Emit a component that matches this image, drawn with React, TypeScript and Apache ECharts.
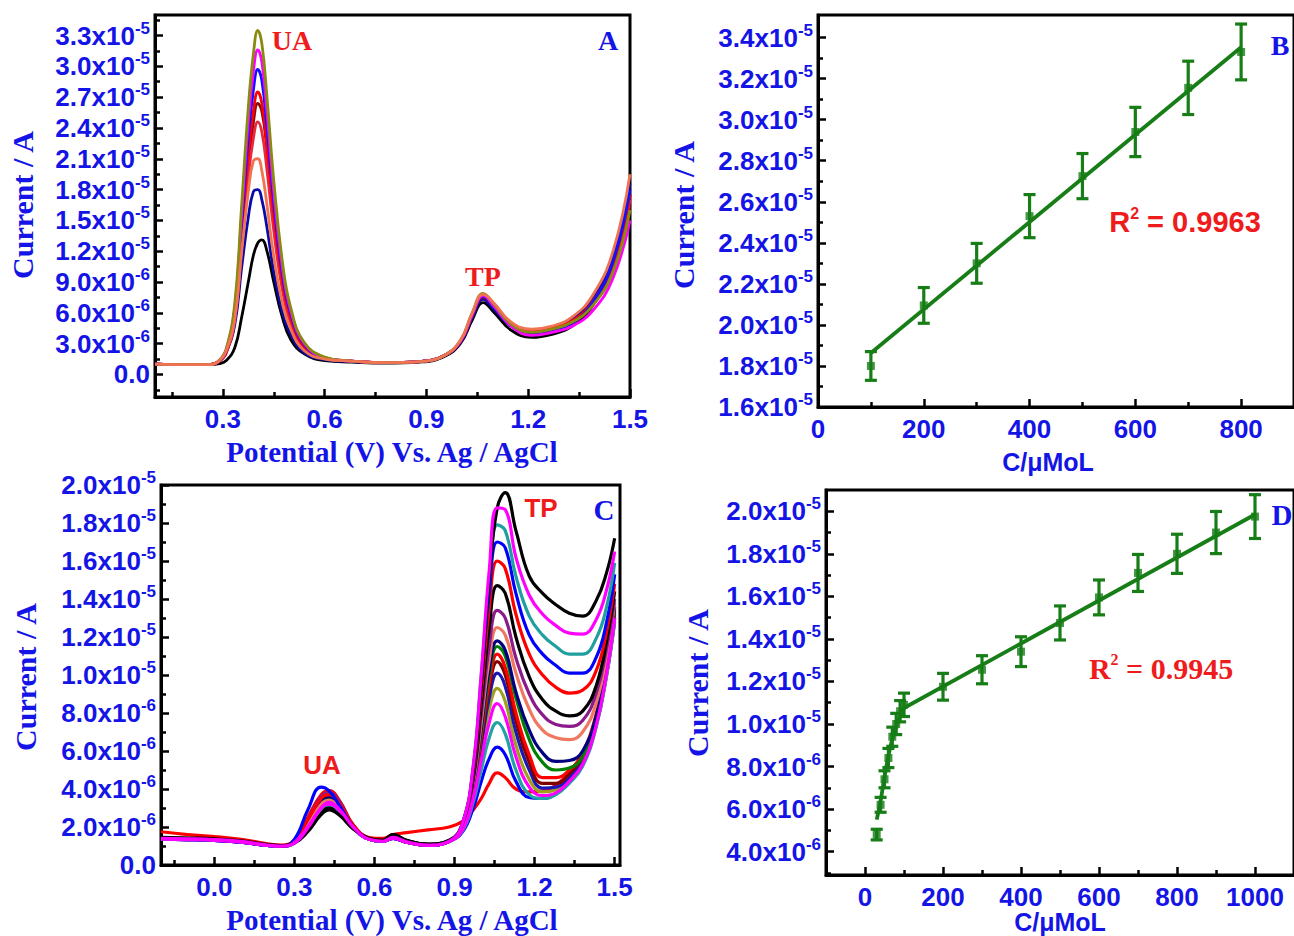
import React, { useEffect, useRef } from 'react';
import * as echarts from 'echarts';

// ---------- Panel A : DPV, UA varied (current values in 1e-6 A) ----------
const X_A = [0.1, 0.2, 0.26, 0.29, 0.31, 0.335, 0.355, 0.375, 0.39, 0.403, 0.415, 0.43, 0.45, 0.475, 0.5, 0.54, 0.6, 0.68, 0.78, 0.88, 0.95, 1.0, 1.035, 1.067, 1.1, 1.15, 1.21, 1.27, 1.33, 1.39, 1.45, 1.5];
const A_BLACK = [1.0, 0.95, 0.95, 1.05, 1.35, 2.6, 5.5, 9.0, 11.6, 12.8, 13.1, 12.0, 9.0, 5.6, 3.4, 2.0, 1.35, 1.2, 1.1, 1.2, 1.7, 3.0, 5.3, 7.0, 6.0, 4.3, 3.6, 3.9, 4.7, 6.7, 10.5, 17.5];
const A_NAVY = [1.0, 0.95, 0.95, 1.3, 2.2, 4.8, 10.3, 15.3, 17.8, 18.0, 17.0, 14.3, 10.0, 6.1, 3.9, 2.1, 1.45, 1.25, 1.15, 1.25, 1.8, 3.1, 5.5, 7.3, 6.3, 4.7, 4.2, 4.5, 5.4, 7.4, 11.4, 18.6];
const A_MAROON = [1.0, 0.95, 0.95, 1.3, 2.1, 5.4, 12.6, 20.3, 24.5, 26.4, 25.6, 21.9, 15.5, 9.2, 5.4, 2.7, 1.6, 1.3, 1.15, 1.25, 1.8, 3.2, 5.7, 7.5, 6.5, 4.7, 4.0, 4.4, 5.0, 6.8, 10.2, 16.5];
const A_CRIMSON = [1.0, 0.95, 0.95, 1.3, 2.1, 5.3, 12.1, 19.2, 23.0, 24.6, 23.6, 19.9, 14.0, 8.3, 5.0, 2.5, 1.55, 1.3, 1.15, 1.25, 1.8, 3.2, 5.8, 7.7, 6.7, 4.9, 4.2, 4.6, 5.2, 7.0, 10.6, 17.0];
const A_RED = [1.0, 0.95, 0.95, 1.3, 2.2, 5.8, 13.5, 21.4, 25.6, 27.5, 26.4, 22.2, 15.6, 9.2, 5.5, 2.7, 1.6, 1.3, 1.15, 1.25, 1.8, 3.2, 5.8, 7.6, 6.6, 4.8, 4.1, 4.5, 5.2, 7.1, 10.8, 17.5];
const A_BLUE = [1.0, 0.95, 0.95, 1.35, 2.3, 6.2, 14.5, 23.1, 27.7, 29.7, 28.6, 24.0, 16.8, 9.9, 5.9, 2.9, 1.6, 1.3, 1.15, 1.25, 1.8, 3.2, 5.8, 7.6, 6.5, 4.7, 3.9, 4.3, 5.0, 7.0, 11.0, 18.0];
const A_MAGENTA = [1.0, 0.95, 0.95, 1.37, 2.4, 6.5, 15.4, 24.6, 29.5, 31.6, 30.4, 25.5, 17.8, 10.5, 6.2, 3.0, 1.65, 1.3, 1.15, 1.25, 1.8, 3.2, 5.8, 7.7, 6.6, 4.7, 3.8, 4.1, 4.7, 6.2, 9.4, 15.0];
const A_OLIVE = [1.0, 0.95, 0.95, 1.4, 2.5, 6.9, 16.3, 26.0, 31.2, 33.5, 32.2, 27.0, 18.9, 11.1, 6.5, 3.1, 1.7, 1.3, 1.15, 1.25, 1.8, 3.3, 6.0, 7.9, 6.8, 4.9, 4.1, 4.4, 5.1, 6.7, 10.0, 16.0];
const A_SALMON = [1.0, 0.95, 0.95, 1.35, 2.3, 5.4, 11.8, 17.8, 20.8, 21.0, 19.8, 16.5, 11.5, 7.0, 4.4, 2.3, 1.5, 1.3, 1.15, 1.25, 1.8, 3.3, 6.0, 7.8, 6.9, 5.1, 4.4, 4.7, 5.6, 7.7, 12.0, 19.5];
const A_X_MAJOR = [0.3, 0.6, 0.9, 1.2, 1.5];
const A_X_MINOR = [0.15, 0.45, 0.75, 1.05, 1.35];
const A_Y_MAJOR = [0, 3, 6, 9, 12, 15, 18, 21, 24, 27, 30, 33];
const A_Y_MINOR = [-1.5, 1.5, 4.5, 7.5, 10.5, 13.5, 16.5, 19.5, 22.5, 25.5, 28.5, 31.5, 34.5];

// ---------- Panel B : calibration (1e-6 A) ----------
const B_CONC = [100, 200, 300, 400, 500, 600, 700, 800];
const B_CURRENT = [18.0, 20.95, 23.0, 25.3, 27.25, 29.4, 31.55, 33.3];
const B_ERR = [0.7, 0.87, 0.97, 1.05, 1.1, 1.2, 1.3, 1.36];
const B_FIT_X = [100, 800];
const B_FIT_Y = [18.63, 33.53];
const B_X_MAJOR = [0, 200, 400, 600, 800];
const B_X_MINOR = [100, 300, 500, 700];
const B_Y_MAJOR = [16, 18, 20, 22, 24, 26, 28, 30, 32, 34];
const B_Y_MINOR = [17, 19, 21, 23, 25, 27, 29, 31, 33];

// ---------- Panel C : DPV, TP varied (1e-6 A) ----------
const X_C = [-0.2, -0.1, 0.0, 0.1, 0.2, 0.25, 0.3, 0.35, 0.4, 0.43, 0.47, 0.52, 0.58, 0.63, 0.67, 0.72, 0.8, 0.88, 0.93, 0.97, 1.0, 1.03, 1.06, 1.09, 1.13, 1.18, 1.23, 1.28, 1.33, 1.38, 1.43, 1.47, 1.5];
const C1_BLACK = [1.45, 1.42, 1.38, 1.27, 1.08, 1.02, 1.15, 1.75, 2.65, 2.9, 2.6, 1.9, 1.4, 1.3, 1.6, 1.3, 1.1, 1.3, 2.2, 5.0, 9.5, 15.0, 18.8, 19.6, 17.6, 15.2, 14.3, 13.7, 13.25, 13.1, 13.9, 15.4, 17.2];
const C2_MAGENTA = [1.4, 1.38, 1.34, 1.24, 1.05, 1.0, 1.15, 1.95, 3.0, 3.3, 2.9, 2.0, 1.35, 1.25, 1.45, 1.22, 1.05, 1.25, 2.2, 5.2, 10.0, 15.5, 18.8, 18.7, 16.2, 14.2, 13.2, 12.6, 12.2, 12.15, 12.9, 14.5, 16.5];
const C3_TEAL = [1.38, 1.36, 1.32, 1.22, 1.04, 0.98, 1.15, 1.9, 2.95, 3.2, 2.8, 1.95, 1.35, 1.25, 1.45, 1.22, 1.05, 1.25, 2.2, 5.2, 10.0, 15.0, 17.9, 17.6, 15.2, 13.1, 12.1, 11.5, 11.1, 11.1, 11.9, 13.6, 15.9];
const C4_BLUE = [1.36, 1.34, 1.3, 1.2, 1.03, 0.98, 1.35, 2.9, 4.1, 3.9, 3.1, 2.0, 1.35, 1.25, 1.4, 1.2, 1.05, 1.25, 2.2, 5.0, 9.6, 14.3, 17.0, 16.7, 14.3, 12.1, 11.1, 10.5, 10.1, 10.1, 10.9, 12.8, 15.3];
const C5_RED = [1.42, 1.4, 1.35, 1.24, 1.05, 1.0, 1.3, 2.4, 3.5, 3.7, 3.2, 2.1, 1.4, 1.3, 1.45, 1.22, 1.05, 1.25, 2.1, 4.8, 9.0, 13.5, 16.0, 15.6, 13.2, 11.1, 10.0, 9.35, 9.05, 9.2, 10.2, 12.3, 14.8];
const C6_BLACK = [1.4, 1.38, 1.34, 1.23, 1.05, 1.0, 1.18, 1.85, 2.8, 3.0, 2.7, 1.95, 1.4, 1.3, 1.6, 1.3, 1.1, 1.28, 2.1, 4.6, 8.4, 12.5, 14.7, 14.3, 12.0, 9.9, 8.7, 8.1, 7.85, 8.1, 9.4, 11.8, 14.4];
const C7_PURPLE = [1.38, 1.36, 1.32, 1.22, 1.04, 0.99, 1.28, 2.4, 3.6, 3.8, 3.3, 2.1, 1.38, 1.28, 1.45, 1.22, 1.05, 1.25, 2.0, 4.4, 7.9, 11.5, 13.4, 13.0, 10.9, 9.0, 7.9, 7.4, 7.3, 7.6, 9.0, 11.4, 14.0];
const C8_SALMON = [1.4, 1.38, 1.33, 1.23, 1.05, 1.0, 1.22, 2.1, 3.2, 3.4, 3.0, 2.0, 1.35, 1.25, 1.42, 1.2, 1.05, 1.25, 2.0, 4.3, 7.5, 10.8, 12.5, 12.1, 10.1, 8.2, 7.1, 6.7, 6.6, 7.0, 8.5, 11.0, 13.8];
const C9_NAVY = [1.36, 1.34, 1.3, 1.2, 1.03, 0.98, 1.25, 2.3, 3.4, 3.6, 3.1, 2.05, 1.35, 1.25, 1.4, 1.2, 1.04, 1.24, 2.0, 4.2, 7.2, 10.3, 11.8, 11.3, 9.1, 7.1, 5.9, 5.45, 5.5, 6.0, 7.8, 10.6, 13.6];
const C10_GREEN = [1.38, 1.36, 1.32, 1.22, 1.04, 0.99, 1.24, 2.2, 3.3, 3.5, 3.05, 2.0, 1.35, 1.25, 1.42, 1.2, 1.05, 1.25, 2.0, 4.1, 7.0, 10.0, 11.5, 11.0, 8.8, 6.6, 5.4, 5.0, 5.1, 5.7, 7.6, 10.5, 13.5];
const C11_RED = [1.4, 1.38, 1.34, 1.23, 1.05, 1.0, 1.3, 2.5, 3.7, 3.9, 3.35, 2.1, 1.38, 1.28, 1.45, 1.22, 1.05, 1.25, 1.95, 4.0, 6.8, 9.6, 11.1, 10.4, 8.0, 5.8, 4.6, 4.6, 5.0, 5.8, 7.8, 10.6, 13.4];
const C12_MAROON = [1.38, 1.36, 1.32, 1.22, 1.04, 0.99, 1.3, 2.45, 3.65, 3.9, 3.35, 2.1, 1.38, 1.28, 1.5, 1.25, 1.06, 1.26, 1.95, 3.9, 6.6, 9.3, 10.7, 10.0, 7.6, 5.4, 4.3, 4.3, 4.8, 5.7, 7.7, 10.5, 13.3];
const C13_NAVY = [1.36, 1.34, 1.3, 1.2, 1.03, 0.98, 1.26, 2.3, 3.4, 3.6, 3.1, 2.05, 1.35, 1.25, 1.4, 1.2, 1.04, 1.24, 1.9, 3.8, 6.3, 8.8, 10.1, 9.4, 7.0, 5.0, 4.05, 4.1, 4.6, 5.5, 7.5, 10.3, 13.2];
const C14_OLIVE = [1.38, 1.36, 1.32, 1.22, 1.04, 0.99, 1.22, 2.1, 3.2, 3.4, 3.0, 2.0, 1.35, 1.25, 1.42, 1.2, 1.05, 1.25, 1.9, 3.7, 5.9, 8.2, 9.3, 8.6, 6.3, 4.5, 3.85, 3.95, 4.5, 5.4, 7.4, 10.1, 13.0];
const C15_MAGENTA = [1.36, 1.34, 1.3, 1.2, 1.03, 0.98, 1.2, 2.0, 3.0, 3.2, 2.85, 1.95, 1.35, 1.25, 1.4, 1.2, 1.04, 1.24, 1.85, 3.5, 5.5, 7.5, 8.5, 7.8, 5.7, 4.1, 3.65, 3.8, 4.4, 5.3, 7.3, 10.1, 13.0];
const C16_TEAL = [1.38, 1.36, 1.32, 1.22, 1.04, 0.99, 1.18, 1.95, 2.9, 3.1, 2.8, 1.95, 1.35, 1.25, 1.42, 1.2, 1.05, 1.25, 1.8, 3.3, 5.0, 6.7, 7.5, 6.9, 5.0, 3.7, 3.5, 3.7, 4.3, 5.2, 7.2, 10.0, 12.9];
const C17_BLUE = [1.36, 1.34, 1.3, 1.2, 1.03, 0.98, 1.2, 2.0, 3.05, 3.3, 2.9, 2.0, 1.35, 1.25, 1.4, 1.2, 1.04, 1.24, 1.75, 3.0, 4.4, 5.6, 6.2, 5.8, 4.4, 3.55, 3.5, 3.75, 4.4, 5.3, 7.3, 10.0, 12.8];
const C18_RED = [1.75, 1.6, 1.5, 1.35, 1.12, 1.05, 1.3, 2.4, 3.4, 3.6, 3.15, 2.1, 1.45, 1.4, 1.6, 1.7, 1.85, 2.0, 2.3, 2.9, 3.5, 4.3, 4.85, 4.6, 4.0, 3.85, 3.9, 4.2, 4.9, 5.9, 7.9, 10.5, 13.0];
const C_X_MAJOR = [0.0, 0.3, 0.6, 0.9, 1.2, 1.5];
const C_X_MINOR = [-0.15, 0.15, 0.45, 0.75, 1.05, 1.35];
const C_Y_MAJOR = [0, 2, 4, 6, 8, 10, 12, 14, 16, 18, 20];
const C_Y_MINOR = [1, 3, 5, 7, 9, 11, 13, 15, 17, 19];

// ---------- Panel D : calibration (1e-6 A) ----------
const D_CONC = [30, 40, 50, 60, 70, 80, 90, 100, 200, 300, 400, 500, 600, 700, 800, 900, 1000];
const D_CURRENT = [4.8, 6.2, 7.4, 8.4, 9.4, 10.0, 10.6, 10.9, 11.75, 12.55, 13.4, 14.75, 15.95, 17.1, 18.0, 19.0, 19.75];
const D_ERR = [0.25, 0.35, 0.4, 0.45, 0.45, 0.5, 0.5, 0.55, 0.63, 0.66, 0.7, 0.8, 0.82, 0.87, 0.92, 0.99, 1.03];
const D_FIT_LOW_X = [30, 40, 50, 60, 70, 80, 90, 100];
const D_FIT_LOW_Y = [5.5, 6.4, 7.5, 8.5, 9.3, 9.9, 10.4, 10.75];
const D_FIT_HIGH_X = [100, 1000];
const D_FIT_HIGH_Y = [10.75, 19.85];
const D_X_MAJOR = [0, 200, 400, 600, 800, 1000];
const D_X_MINOR = [100, 300, 500, 700, 900];
const D_Y_MAJOR = [4, 6, 8, 10, 12, 14, 16, 18, 20];
const D_Y_MINOR = [3, 5, 7, 9, 11, 13, 15, 17, 19];

const MICRO = 1e-6;
const BLUE = '#1414e6';
const RED = '#ee1c1c';
const GREEN = '#177d17';
const SANS = '"Liberation Sans", Arial, sans-serif';
const SERIF = '"Liberation Serif", "Times New Roman", serif';
const TICK_FONT = 26;

function sciLabel(v: number): string {
  if (Math.abs(v) < 1e-12) return '{m|0.0}';
  const e = Math.floor(Math.log10(Math.abs(v)) + 1e-9);
  const m = (v / Math.pow(10, e)).toFixed(1);
  return `{m|${m}x10}{s|${e}}`;
}

const sciRich = {
  m: { fontSize: TICK_FONT, fontWeight: 'bold', fontFamily: SANS, color: BLUE, lineHeight: 32 },
  s: { fontSize: 17, fontWeight: 'bold', fontFamily: SANS, color: BLUE, lineHeight: 16, verticalAlign: 'top' },
};

function axisPair(dim: 'x' | 'y', grid: number, min: number, max: number, majors: number[], minors: number[], fmt: (v: number) => string, margin: number) {
  const major: any = {
    type: 'value', gridIndex: grid, min, max,
    position: dim === 'x' ? 'bottom' : 'left',
    axisLine: { show: true, onZero: false, lineStyle: { color: '#000', width: 3 } },
    axisTick: { show: true, inside: true, length: 8, customValues: majors, lineStyle: { color: '#000', width: 2.5 } },
    axisLabel: {
      show: true, customValues: majors, formatter: fmt, margin,
      color: BLUE, fontSize: TICK_FONT, fontWeight: 'bold', fontFamily: SANS, rich: sciRich,
    },
    splitLine: { show: false },
  };
  const minor: any = {
    type: 'value', gridIndex: grid, min, max,
    position: dim === 'x' ? 'bottom' : 'left',
    axisLine: { show: false, onZero: false },
    axisTick: { show: true, inside: true, length: 5, customValues: minors, lineStyle: { color: '#000', width: 2.5 } },
    axisLabel: { show: false },
    splitLine: { show: false },
  };
  return [major, minor];
}

const fmtA = (v: number) => v.toFixed(1);
const fmtInt = (v: number) => String(Math.round(v));

function curve(xs: number[], ys: number[], color: string, axis: number, width: number) {
  return {
    type: 'line', xAxisIndex: axis, yAxisIndex: axis,
    data: xs.map((x, i) => [x, ys[i] * MICRO]),
    smooth: 0.45, showSymbol: false, symbol: 'none',
    lineStyle: { color, width }, itemStyle: { color }, silent: true,
  };
}

function errorBars(xs: number[], ys: number[], es: number[], axis: number) {
  return {
    type: 'custom', xAxisIndex: axis, yAxisIndex: axis, z: 4,
    data: xs.map((x, i) => [x, ys[i] * MICRO, es[i] * MICRO]),
    encode: { x: 0, y: 1 },
    renderItem: (params: any, api: any) => {
      const x = api.value(0), y = api.value(1), e = api.value(2);
      const t = api.coord([x, y + e]);
      const b = api.coord([x, y - e]);
      const hw = 6;
      const st = { stroke: GREEN, lineWidth: 3.2 };
      return {
        type: 'group',
        children: [
          { type: 'line', shape: { x1: t[0], y1: t[1], x2: b[0], y2: b[1] }, style: st },
          { type: 'line', shape: { x1: t[0] - hw, y1: t[1], x2: t[0] + hw, y2: t[1] }, style: st },
          { type: 'line', shape: { x1: b[0] - hw, y1: b[1], x2: b[0] + hw, y2: b[1] }, style: st },
        ],
      };
    },
  };
}

function markers(xs: number[], ys: number[], axis: number) {
  return {
    type: 'scatter', xAxisIndex: axis, yAxisIndex: axis, z: 5,
    data: xs.map((x, i) => [x, ys[i] * MICRO]),
    symbol: 'rect', symbolSize: 8, itemStyle: { color: GREEN },
  };
}

function fitLine(xs: number[], ys: number[], axis: number, smooth: boolean) {
  return {
    type: 'line', xAxisIndex: axis, yAxisIndex: axis, z: 3,
    data: xs.map((x, i) => [x, ys[i] * MICRO]),
    smooth: smooth ? 0.4 : false, showSymbol: false, symbol: 'none',
    lineStyle: { color: GREEN, width: 3.8 },
  };
}

function txt(text: string, x: number, y: number, fill: string, font: string, size: number, rotation = 0) {
  return {
    type: 'text', x, y, rotation, z: 100,
    style: { text, fill, fontFamily: font, fontSize: size, fontWeight: 'bold', align: 'center', verticalAlign: 'middle' },
  };
}

function r2Text(value: string, x: number, y: number, font: string, size: number) {
  return {
    type: 'text', x, y, z: 100,
    style: {
      text: `{r|R}{s|2}{r| = ${value}}`,
      align: 'center', verticalAlign: 'middle',
      rich: {
        r: { fontFamily: font, fontSize: size, fontWeight: 'bold', fill: RED, lineHeight: size + 4 },
        s: { fontFamily: font, fontSize: 16, fontWeight: 'bold', fill: RED, lineHeight: 16, verticalAlign: 'top' },
      },
    },
  };
}

export default function App() {
  const ref = useRef<HTMLDivElement>(null);
  useEffect(() => {
    if (!ref.current) return;
    const chart = echarts.init(ref.current, undefined, { renderer: 'svg' });
    const grids = [
      { left: 155, top: 15, width: 475, height: 382 },
      { left: 818, top: 15, width: 482, height: 392 },
      { left: 161, top: 485, width: 459, height: 380 },
      { left: 826, top: 490, width: 475, height: 385 },
    ].map((g) => ({ ...g, show: true, borderColor: '#000', borderWidth: 3, backgroundColor: 'transparent', containLabel: false }));

    const xAxis = [
      ...axisPair('x', 0, 0.1, 1.5, A_X_MAJOR, A_X_MINOR, fmtA, 9),
      ...axisPair('x', 1, 0, 900, B_X_MAJOR, B_X_MINOR, fmtInt, 9),
      ...axisPair('x', 2, -0.2, 1.52, C_X_MAJOR, C_X_MINOR, fmtA, 9),
      ...axisPair('x', 3, -100, 1100, D_X_MAJOR, D_X_MINOR, fmtInt, 9),
    ];
    const toA = (arr: number[]) => arr.map((v) => v * MICRO);
    const yAxis = [
      ...axisPair('y', 0, -2.2e-6, 3.5e-5, toA(A_Y_MAJOR), toA(A_Y_MINOR), sciLabel, 5),
      ...axisPair('y', 1, 1.6e-5, 3.51e-5, toA(B_Y_MAJOR), toA(B_Y_MINOR), sciLabel, 5),
      ...axisPair('y', 2, 0, 2.0e-5, toA(C_Y_MAJOR), toA(C_Y_MINOR), sciLabel, 5),
      ...axisPair('y', 3, 2.9e-6, 2.1e-5, toA(D_Y_MAJOR), toA(D_Y_MINOR), sciLabel, 5),
    ];

    const aCurves: [number[], string][] = [
      [A_BLACK, '#000000'], [A_NAVY, '#0a0aa8'], [A_MAROON, '#8b0a0a'], [A_CRIMSON, '#e8283c'],
      [A_RED, '#ff0000'], [A_BLUE, '#1010ff'], [A_MAGENTA, '#ff00ff'], [A_OLIVE, '#8a8a10'], [A_SALMON, '#f07452'],
    ];
    const cCurves: [number[], string][] = [
      [C18_RED, '#ff0000'], [C17_BLUE, '#0000ff'], [C16_TEAL, '#1fa3a3'], [C14_OLIVE, '#a0a020'],
      [C13_NAVY, '#1818b8'], [C12_MAROON, '#800000'], [C11_RED, '#ff0000'], [C10_GREEN, '#008000'],
      [C9_NAVY, '#000080'], [C8_SALMON, '#f07860'], [C7_PURPLE, '#8b1a8b'], [C6_BLACK, '#000000'],
      [C5_RED, '#ff0000'], [C4_BLUE, '#0000ff'], [C3_TEAL, '#1f9f9f'], [C15_MAGENTA, '#ff00ff'],
      [C1_BLACK, '#000000'], [C2_MAGENTA, '#ff00ff'],
    ];

    const series: any[] = [
      ...aCurves.map(([ys, c]) => curve(X_A, ys, c, 0, 2.8)),
      fitLine(B_FIT_X, B_FIT_Y, 2, false),
      errorBars(B_CONC, B_CURRENT, B_ERR, 2),
      markers(B_CONC, B_CURRENT, 2),
      ...cCurves.map(([ys, c]) => curve(X_C, ys, c, 4, 3.2)),
      fitLine(D_FIT_LOW_X, D_FIT_LOW_Y, 6, true),
      fitLine(D_FIT_HIGH_X, D_FIT_HIGH_Y, 6, false),
      errorBars(D_CONC, D_CURRENT, D_ERR, 6),
      markers(D_CONC, D_CURRENT, 6),
    ];

    const graphic = [
      // Panel A
      txt('UA', 292, 40, RED, SERIF, 28),
      txt('A', 608, 40, BLUE, SERIF, 28),
      txt('TP', 483, 276, RED, SERIF, 28),
      txt('Current / A', 22, 205, BLUE, SERIF, 30, Math.PI / 2),
      txt('Potential (V) Vs. Ag / AgCl', 392, 452, BLUE, SERIF, 29),
      // Panel B
      txt('B', 1280, 45, BLUE, SERIF, 28),
      r2Text('0.9963', 1185, 222, SANS, 29),
      txt('Current / A', 683, 215, BLUE, SERIF, 30, Math.PI / 2),
      txt('C/\u03bcMoL', 1048, 462, BLUE, SANS, 25),
      // Panel C
      txt('UA', 322, 765, RED, SANS, 26),
      txt('TP', 541, 508, RED, SANS, 26),
      txt('C', 604, 510, BLUE, SERIF, 29),
      txt('Current / A', 25, 677, BLUE, SERIF, 30, Math.PI / 2),
      txt('Potential (V) Vs. Ag / AgCl', 392, 920, BLUE, SERIF, 29),
      // Panel D
      txt('D', 1282, 515, BLUE, SERIF, 29),
      r2Text('0.9945', 1161, 668, SERIF, 30),
      txt('Current / A', 697, 683, BLUE, SERIF, 30, Math.PI / 2),
      txt('C/\u03bcMoL', 1060, 922, BLUE, SANS, 25),
    ];

    chart.setOption({
      animation: false,
      backgroundColor: '#ffffff',
      grid: grids,
      xAxis,
      yAxis,
      series,
      graphic,
    });
    return () => chart.dispose();
  }, []);
  return <div ref={ref} style={{ position: 'absolute', left: 0, top: 0, width: 1294, height: 936 }} />;
}
